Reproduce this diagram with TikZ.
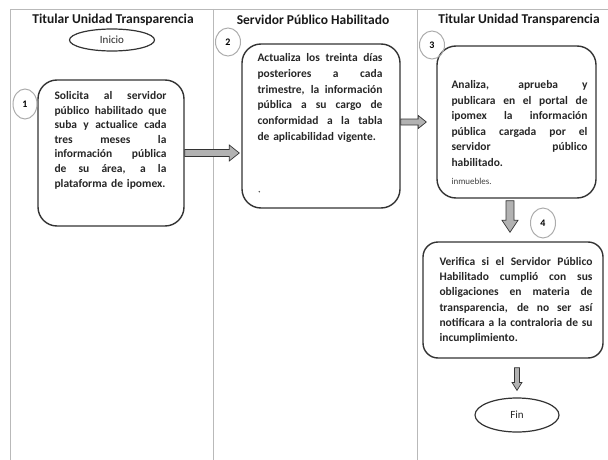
\documentclass[tikz,border=0pt]{standalone}
\usepackage{fontspec}
\setmainfont{Carlito}
\usetikzlibrary{calc,shapes.geometric}
\newlength\jw
\newcommand\jl[1]{\leavevmode\hbox to \jw{\spaceskip=0pt\xspaceskip=0pt #1}}
\newcommand\harr[5]{\path[barrow] let \p1=(#1), \p2=(#2) in
  (\x1,\y1+#3pt) -- (\x2-#5pt,\y1+#3pt) -- (\x2-#5pt,\y1+#4pt) -- (\x2,\y1)
  -- (\x2-#5pt,\y1-#4pt) -- (\x2-#5pt,\y1-#3pt) -- (\x1,\y1-#3pt) -- cycle;}
\newcommand\varr[5]{\path[barrow] let \p1=(#1), \p2=(#2) in
  (\x1-#3pt,\y1) -- (\x1-#3pt,\y2+#5pt) -- (\x1-#4pt,\y2+#5pt) -- (\x1,\y2)
  -- (\x1+#4pt,\y2+#5pt) -- (\x1+#3pt,\y2+#5pt) -- (\x1+#3pt,\y1) -- cycle;}
\tikzset{
  frame/.style={draw=gray!55, line width=0.6pt},
  box/.style={draw=black!80, line width=1.4pt, rounded corners=19pt, inner sep=0pt},
  txt/.style={anchor=north west, inner sep=0pt, align=left, text=black!85},
  head/.style={font=\fontsize{13.5}{15}\selectfont\bfseries, text=black!90},
  term/.style={ellipse, draw=black!80, line width=1.2pt, inner sep=0pt,
    font=\fontsize{11}{12}\selectfont, text=black!85},
  num/.style={ellipse, draw=gray!65, line width=1pt, minimum width=25pt,
    minimum height=29pt, inner sep=0pt, font=\fontsize{10}{11}\selectfont\bfseries},
  barrow/.style={fill=gray!60, draw=gray!40!black, line width=0.7pt, line join=miter},
}
\begin{document}
\begin{tikzpicture}[x=1pt,y=-1pt]
\useasboundingbox (0,0) rectangle (608,460);
% frame
\draw[frame] (10,460) -- (10,9) -- (608,9);
\draw[frame] (213,9) -- (213,460);
\draw[frame] (417,9) -- (417,460);
% headers
\node[head] (h1) at (113,20) {Titular Unidad Transparencia};
\node[head] (h2) at (313,20) {Servidor Público Habilitado};
\node[head] (h3) at (519,20) {Titular Unidad Transparencia};
% terminals
\node[term, minimum width=85pt, minimum height=22pt] (ini) at (112,40) {Inicio};
\node[term, minimum width=84pt, minimum height=34pt] (fin) at (517,415) {Fin};
% boxes
\node[box, minimum width=146pt, minimum height=146pt] (b1) at (111,153) {};
\node[box, minimum width=158pt, minimum height=164pt] (b2) at (321,126) {};
\node[box, minimum width=159pt, minimum height=152pt] (b3) at (516.5,122) {};
\node[box, minimum width=180pt, minimum height=116pt, rounded corners=15pt] (b4) at (513,300) {};
% numbers
\node[num, minimum height=30pt, minimum width=24pt] (n1) at (25,104) {1};
\node[num, minimum height=28pt] (n2) at (228,42) {2};
\node[num, minimum height=28pt] (n3) at (432,45) {3};
\node[num, minimum height=30pt] (n4) at (543,223) {4};
% texts
\setlength\jw{112pt}
\node[txt, text width=112pt, font=\fontsize{11.5}{14.6}\selectfont\bfseries] (t1)
  at ($(b1.north west)+(17,12)$) {%
\jl{Solicita al servidor}\\
\jl{público habilitado que}\\
\jl{suba y actualice cada}\\
\jl{tres meses la}\\
\jl{información pública}\\
\jl{de su área, a la}\\
plataforma de ipomex.};
\setlength\jw{125pt}
\node[txt, text width=125pt, font=\fontsize{11.5}{15.8}\selectfont\bfseries] (t2)
  at ($(b2.north west)+(16,10)$) {%
\jl{Actualiza los treinta días}\\
\jl{posteriores a cada}\\
\jl{trimestre, la información}\\
\jl{pública a su cargo de}\\
\jl{conformidad a la tabla}\\
de aplicabilidad vigente.};
\node[circle, fill=black!70, inner sep=0.6pt] (dot) at ($(b2.south west)+(18,-17)$) {};
\setlength\jw{136pt}
\node[txt, text width=136pt, font=\fontsize{11.5}{15.5}\selectfont\bfseries] (t3)
  at ($(b3.north west)+(15,35)$) {%
\jl{Analiza, aprueba y}\\
\jl{publicara en el portal de}\\
\jl{ipomex la información}\\
\jl{pública cargada por el}\\
\jl{servidor público}\\
habilitado.};
\node[anchor=north west, inner sep=0pt, font=\fontsize{9}{10}\selectfont, text=black!75] (inm)
  at ($(t3.south west)+(0,12)$) {inmuebles.};
\setlength\jw{153pt}
\node[txt, text width=153pt, font=\fontsize{11.5}{15.2}\selectfont\bfseries] (t4)
  at ($(b4.north west)+(17,16)$) {%
\jl{Verifica si el Servidor Público}\\
\jl{Habilitado cumplió con sus}\\
\jl{obligaciones en materia de}\\
\jl{transparencia, de no ser así}\\
\jl{notificara a la contraloria de su}\\
incumplimiento.};
% arrows
\harr{b1.east}{$(b2.west|-b1.east)+(-2,0)$}{3.5}{8}{10}
\harr{b2.east|-b3.west}{$(b3.west)+(-10,0)$}{3}{6.5}{8}
\varr{$(b3.south)+(-6.5,2)$}{$(b4.north)+(-3,-9)$}{4}{8}{12}
\varr{$(b4.south)+(4,9)$}{$(fin.north)+(0,-7)$}{2.5}{5}{8}
\end{tikzpicture}
\end{document}
